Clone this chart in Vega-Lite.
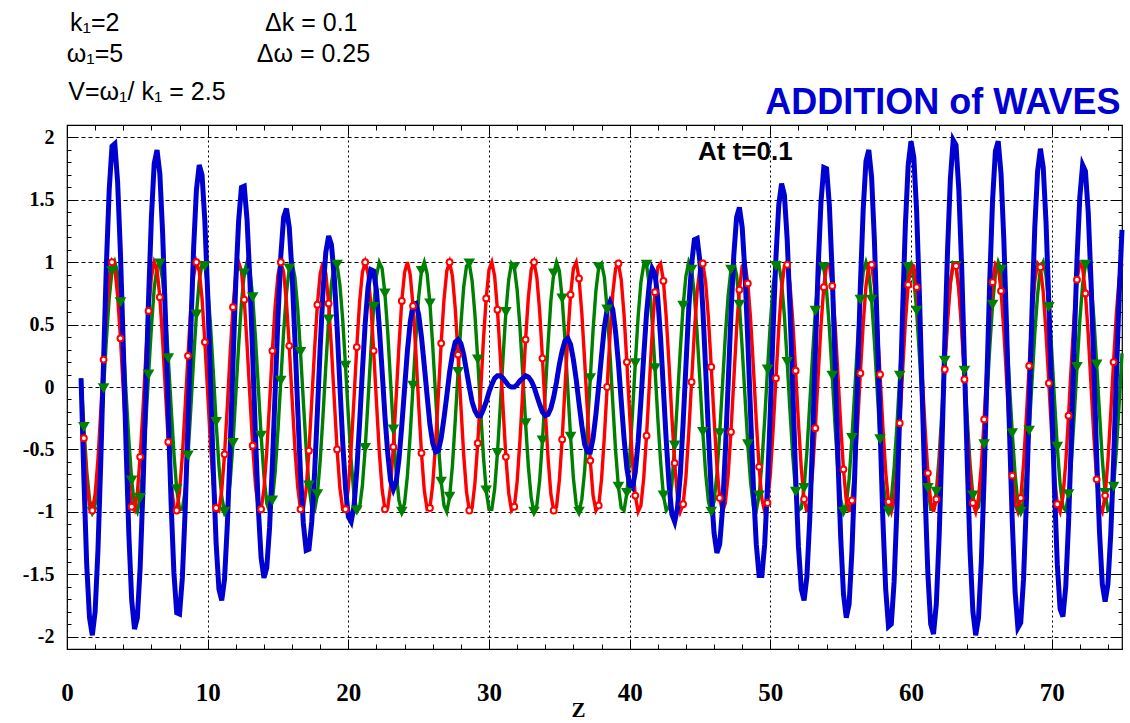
{
  "$schema": "https://vega.github.io/schema/vega-lite/v6.json",
  "width": 1055,
  "height": 524,
  "autosize": {"type": "none"},
  "padding": {"left": 67, "top": 125, "right": 8, "bottom": 74},
  "background": "white",
  "config": {
    "view": {"stroke": "#000", "strokeWidth": 1.2},
    "axis": {"domain": false, "labelFont": "Liberation Serif", "labelFontWeight": "bold", "labelColor": "#000", "tickColor": "#000", "gridColor": "#000", "gridOpacity": 1, "titleFont": "Liberation Serif", "titleFontWeight": "bold", "titleColor": "#000", "labelFlush": false, "labelOverlap": false}
  },
  "datasets": {
    "waves": [
      {"z":1,"wave1":0.07,"wave2":0,"sum":0.07},{"z":1.2,"wave1":-0.32,"wave2":-0.41,"sum":-0.73},{"z":1.4,"wave1":-0.67,"wave2":-0.75,"sum":-1.42},{"z":1.6,"wave1":-0.9,"wave2":-0.95,"sum":-1.85},{"z":1.8,"wave1":-1,"wave2":-0.99,"sum":-1.99},
      {"z":2,"wave1":-0.94,"wave2":-0.86,"sum":-1.8},{"z":2.2,"wave1":-0.73,"wave2":-0.58,"sum":-1.31},{"z":2.4,"wave1":-0.4,"wave2":-0.2,"sum":-0.6},{"z":2.6,"wave1":-0.01,"wave2":0.22,"sum":0.21},{"z":2.8,"wave1":0.38,"wave2":0.6,"sum":0.98},
      {"z":3,"wave1":0.71,"wave2":0.87,"sum":1.58},{"z":3.2,"wave1":0.93,"wave2":1,"sum":1.93},{"z":3.4,"wave1":1,"wave2":0.95,"sum":1.95},{"z":3.6,"wave1":0.91,"wave2":0.73,"sum":1.64},{"z":3.8,"wave1":0.68,"wave2":0.39,"sum":1.07},
      {"z":4,"wave1":0.35,"wave2":-0.02,"sum":0.33},{"z":4.2,"wave1":-0.05,"wave2":-0.43,"sum":-0.48},{"z":4.4,"wave1":-0.43,"wave2":-0.76,"sum":-1.19},{"z":4.6,"wave1":-0.75,"wave2":-0.96,"sum":-1.71},{"z":4.8,"wave1":-0.95,"wave2":-0.99,"sum":-1.94},
      {"z":5,"wave1":-1,"wave2":-0.85,"sum":-1.85},{"z":5.2,"wave1":-0.89,"wave2":-0.56,"sum":-1.45},{"z":5.4,"wave1":-0.64,"wave2":-0.18,"sum":-0.82},{"z":5.6,"wave1":-0.29,"wave2":0.24,"sum":-0.05},{"z":5.8,"wave1":0.1,"wave2":0.61,"sum":0.71},
      {"z":6,"wave1":0.48,"wave2":0.88,"sum":1.36},{"z":6.2,"wave1":0.79,"wave2":1,"sum":1.79},{"z":6.4,"wave1":0.96,"wave2":0.94,"sum":1.9},{"z":6.6,"wave1":0.99,"wave2":0.72,"sum":1.71},{"z":6.8,"wave1":0.86,"wave2":0.37,"sum":1.23},
      {"z":7,"wave1":0.59,"wave2":-0.04,"sum":0.55},{"z":7.2,"wave1":0.23,"wave2":-0.44,"sum":-0.21},{"z":7.4,"wave1":-0.16,"wave2":-0.77,"sum":-0.93},{"z":7.6,"wave1":-0.53,"wave2":-0.96,"sum":-1.49},{"z":7.8,"wave1":-0.82,"wave2":-0.99,"sum":-1.81},
      {"z":8,"wave1":-0.98,"wave2":-0.84,"sum":-1.82},{"z":8.2,"wave1":-0.98,"wave2":-0.55,"sum":-1.53},{"z":8.4,"wave1":-0.83,"wave2":-0.16,"sum":-0.99},{"z":8.6,"wave1":-0.55,"wave2":0.25,"sum":-0.3},{"z":8.8,"wave1":-0.18,"wave2":0.63,"sum":0.45},
      {"z":9,"wave1":0.22,"wave2":0.89,"sum":1.11},{"z":9.2,"wave1":0.58,"wave2":1,"sum":1.58},{"z":9.4,"wave1":0.85,"wave2":0.93,"sum":1.78},{"z":9.6,"wave1":0.99,"wave2":0.71,"sum":1.7},{"z":9.8,"wave1":0.97,"wave2":0.36,"sum":1.33},
      {"z":10,"wave1":0.8,"wave2":-0.05,"sum":0.75},{"z":10.2,"wave1":0.5,"wave2":-0.46,"sum":0.04},{"z":10.4,"wave1":0.12,"wave2":-0.78,"sum":-0.66},{"z":10.6,"wave1":-0.28,"wave2":-0.97,"sum":-1.25},{"z":10.8,"wave1":-0.63,"wave2":-0.99,"sum":-1.62},
      {"z":11,"wave1":-0.88,"wave2":-0.83,"sum":-1.71},{"z":11.2,"wave1":-1,"wave2":-0.54,"sum":-1.54},{"z":11.4,"wave1":-0.95,"wave2":-0.15,"sum":-1.1},{"z":11.6,"wave1":-0.76,"wave2":0.27,"sum":-0.49},{"z":11.8,"wave1":-0.45,"wave2":0.64,"sum":0.19},
      {"z":12,"wave1":-0.06,"wave2":0.9,"sum":0.84},{"z":12.2,"wave1":0.33,"wave2":1,"sum":1.33},{"z":12.4,"wave1":0.67,"wave2":0.93,"sum":1.6},{"z":12.6,"wave1":0.91,"wave2":0.7,"sum":1.61},{"z":12.8,"wave1":1,"wave2":0.34,"sum":1.34},
      {"z":13,"wave1":0.93,"wave2":-0.07,"sum":0.86},{"z":13.2,"wave1":0.72,"wave2":-0.47,"sum":0.25},{"z":13.4,"wave1":0.39,"wave2":-0.79,"sum":-0.4},{"z":13.6,"wave1":0,"wave2":-0.97,"sum":-0.97},{"z":13.8,"wave1":-0.39,"wave2":-0.98,"sum":-1.37},
      {"z":14,"wave1":-0.71,"wave2":-0.82,"sum":-1.53},{"z":14.2,"wave1":-0.93,"wave2":-0.52,"sum":-1.45},{"z":14.4,"wave1":-1,"wave2":-0.13,"sum":-1.13},{"z":14.6,"wave1":-0.91,"wave2":0.29,"sum":-0.62},{"z":14.8,"wave1":-0.68,"wave2":0.65,"sum":-0.03},
      {"z":15,"wave1":-0.34,"wave2":0.9,"sum":0.56},{"z":15.2,"wave1":0.05,"wave2":1,"sum":1.05},{"z":15.4,"wave1":0.44,"wave2":0.92,"sum":1.36},{"z":15.6,"wave1":0.75,"wave2":0.68,"sum":1.43},{"z":15.8,"wave1":0.95,"wave2":0.33,"sum":1.28},
      {"z":16,"wave1":1,"wave2":-0.09,"sum":0.91},{"z":16.2,"wave1":0.88,"wave2":-0.49,"sum":0.39},{"z":16.4,"wave1":0.63,"wave2":-0.8,"sum":-0.17},{"z":16.6,"wave1":0.28,"wave2":-0.98,"sum":-0.7},{"z":16.8,"wave1":-0.11,"wave2":-0.98,"sum":-1.09},
      {"z":17,"wave1":-0.49,"wave2":-0.82,"sum":-1.31},{"z":17.2,"wave1":-0.79,"wave2":-0.51,"sum":-1.3},{"z":17.4,"wave1":-0.97,"wave2":-0.11,"sum":-1.08},{"z":17.6,"wave1":-0.99,"wave2":0.3,"sum":-0.69},{"z":17.8,"wave1":-0.86,"wave2":0.66,"sum":-0.2},
      {"z":18,"wave1":-0.59,"wave2":0.91,"sum":0.32},{"z":18.2,"wave1":-0.23,"wave2":1,"sum":0.77},{"z":18.4,"wave1":0.17,"wave2":0.91,"sum":1.08},{"z":18.6,"wave1":0.54,"wave2":0.67,"sum":1.21},{"z":18.8,"wave1":0.83,"wave2":0.31,"sum":1.14},
      {"z":19,"wave1":0.98,"wave2":-0.1,"sum":0.88},{"z":19.2,"wave1":0.98,"wave2":-0.5,"sum":0.48},{"z":19.4,"wave1":0.82,"wave2":-0.81,"sum":0.01},{"z":19.6,"wave1":0.54,"wave2":-0.98,"sum":-0.44},{"z":19.8,"wave1":0.17,"wave2":-0.98,"sum":-0.81},
      {"z":20,"wave1":-0.23,"wave2":-0.81,"sum":-1.04},{"z":20.2,"wave1":-0.59,"wave2":-0.49,"sum":-1.08},{"z":20.4,"wave1":-0.86,"wave2":-0.1,"sum":-0.96},{"z":20.6,"wave1":-0.99,"wave2":0.32,"sum":-0.67},{"z":20.8,"wave1":-0.97,"wave2":0.68,"sum":-0.29},
      {"z":21,"wave1":-0.79,"wave2":0.92,"sum":0.13},{"z":21.2,"wave1":-0.49,"wave2":1,"sum":0.51},{"z":21.4,"wave1":-0.11,"wave2":0.91,"sum":0.8},{"z":21.6,"wave1":0.28,"wave2":0.66,"sum":0.94},{"z":21.8,"wave1":0.64,"wave2":0.29,"sum":0.93},
      {"z":22,"wave1":0.89,"wave2":-0.12,"sum":0.77},{"z":22.2,"wave1":1,"wave2":-0.52,"sum":0.48},{"z":22.4,"wave1":0.95,"wave2":-0.82,"sum":0.13},{"z":22.6,"wave1":0.75,"wave2":-0.98,"sum":-0.23},{"z":22.8,"wave1":0.44,"wave2":-0.97,"sum":-0.53},
      {"z":23,"wave1":0.05,"wave2":-0.8,"sum":-0.75},{"z":23.2,"wave1":-0.34,"wave2":-0.48,"sum":-0.82},{"z":23.4,"wave1":-0.68,"wave2":-0.08,"sum":-0.76},{"z":23.6,"wave1":-0.91,"wave2":0.33,"sum":-0.58},{"z":23.8,"wave1":-1,"wave2":0.69,"sum":-0.31},
      {"z":24,"wave1":-0.93,"wave2":0.92,"sum":-0.01},{"z":24.2,"wave1":-0.71,"wave2":1,"sum":0.29},{"z":24.4,"wave1":-0.38,"wave2":0.9,"sum":0.52},{"z":24.6,"wave1":0.01,"wave2":0.65,"sum":0.66},{"z":24.8,"wave1":0.39,"wave2":0.28,"sum":0.67},
      {"z":25,"wave1":0.72,"wave2":-0.14,"sum":0.58},{"z":25.2,"wave1":0.93,"wave2":-0.53,"sum":0.4},{"z":25.4,"wave1":1,"wave2":-0.83,"sum":0.17},{"z":25.6,"wave1":0.91,"wave2":-0.98,"sum":-0.07},{"z":25.8,"wave1":0.67,"wave2":-0.97,"sum":-0.3},
      {"z":26,"wave1":0.33,"wave2":-0.78,"sum":-0.45},{"z":26.2,"wave1":-0.06,"wave2":-0.46,"sum":-0.52},{"z":26.4,"wave1":-0.45,"wave2":-0.06,"sum":-0.51},{"z":26.6,"wave1":-0.76,"wave2":0.35,"sum":-0.41},{"z":26.8,"wave1":-0.95,"wave2":0.7,"sum":-0.25},
      {"z":27,"wave1":-1,"wave2":0.93,"sum":-0.07},{"z":27.2,"wave1":-0.88,"wave2":1,"sum":0.12},{"z":27.4,"wave1":-0.63,"wave2":0.89,"sum":0.26},{"z":27.6,"wave1":-0.27,"wave2":0.63,"sum":0.36},{"z":27.8,"wave1":0.12,"wave2":0.26,"sum":0.38},
      {"z":28,"wave1":0.5,"wave2":-0.15,"sum":0.35},{"z":28.2,"wave1":0.8,"wave2":-0.54,"sum":0.26},{"z":28.4,"wave1":0.97,"wave2":-0.84,"sum":0.13},{"z":28.6,"wave1":0.99,"wave2":-0.99,"sum":0},{"z":28.8,"wave1":0.85,"wave2":-0.97,"sum":-0.12},
      {"z":29,"wave1":0.58,"wave2":-0.77,"sum":-0.19},{"z":29.2,"wave1":0.22,"wave2":-0.45,"sum":-0.23},{"z":29.4,"wave1":-0.18,"wave2":-0.05,"sum":-0.23},{"z":29.6,"wave1":-0.55,"wave2":0.37,"sum":-0.18},{"z":29.8,"wave1":-0.83,"wave2":0.71,"sum":-0.12},
      {"z":30,"wave1":-0.98,"wave2":0.94,"sum":-0.04},{"z":30.2,"wave1":-0.98,"wave2":1,"sum":0.02},{"z":30.4,"wave1":-0.82,"wave2":0.89,"sum":0.07},{"z":30.6,"wave1":-0.53,"wave2":0.62,"sum":0.09},{"z":30.8,"wave1":-0.16,"wave2":0.25,"sum":0.09},
      {"z":31,"wave1":0.24,"wave2":-0.17,"sum":0.07},{"z":31.2,"wave1":0.6,"wave2":-0.56,"sum":0.04},{"z":31.4,"wave1":0.86,"wave2":-0.85,"sum":0.01},{"z":31.6,"wave1":0.99,"wave2":-0.99,"sum":0},{"z":31.8,"wave1":0.96,"wave2":-0.96,"sum":0},
      {"z":32,"wave1":0.78,"wave2":-0.76,"sum":0.02},{"z":32.2,"wave1":0.48,"wave2":-0.43,"sum":0.05},{"z":32.4,"wave1":0.1,"wave2":-0.03,"sum":0.07},{"z":32.6,"wave1":-0.29,"wave2":0.38,"sum":0.09},{"z":32.8,"wave1":-0.64,"wave2":0.72,"sum":0.08},
      {"z":33,"wave1":-0.89,"wave2":0.94,"sum":0.05},{"z":33.2,"wave1":-1,"wave2":1,"sum":0},{"z":33.4,"wave1":-0.95,"wave2":0.88,"sum":-0.07},{"z":33.6,"wave1":-0.75,"wave2":0.61,"sum":-0.14},{"z":33.8,"wave1":-0.43,"wave2":0.23,"sum":-0.2},
      {"z":34,"wave1":-0.04,"wave2":-0.19,"sum":-0.23},{"z":34.2,"wave1":0.35,"wave2":-0.57,"sum":-0.22},{"z":34.4,"wave1":0.69,"wave2":-0.86,"sum":-0.17},{"z":34.6,"wave1":0.91,"wave2":-0.99,"sum":-0.08},{"z":34.8,"wave1":1,"wave2":-0.96,"sum":0.04},
      {"z":35,"wave1":0.93,"wave2":-0.75,"sum":0.18},{"z":35.2,"wave1":0.71,"wave2":-0.42,"sum":0.29},{"z":35.4,"wave1":0.38,"wave2":-0.01,"sum":0.37},{"z":35.6,"wave1":-0.01,"wave2":0.4,"sum":0.39},{"z":35.8,"wave1":-0.4,"wave2":0.74,"sum":0.34},
      {"z":36,"wave1":-0.73,"wave2":0.95,"sum":0.22},{"z":36.2,"wave1":-0.94,"wave2":1,"sum":0.06},{"z":36.4,"wave1":-1,"wave2":0.87,"sum":-0.13},{"z":36.6,"wave1":-0.9,"wave2":0.59,"sum":-0.31},{"z":36.8,"wave1":-0.67,"wave2":0.21,"sum":-0.46},
      {"z":37,"wave1":-0.32,"wave2":-0.2,"sum":-0.52},{"z":37.2,"wave1":0.07,"wave2":-0.59,"sum":-0.52},{"z":37.4,"wave1":0.46,"wave2":-0.87,"sum":-0.41},{"z":37.6,"wave1":0.77,"wave2":-0.99,"sum":-0.22},{"z":37.8,"wave1":0.96,"wave2":-0.95,"sum":0.01},
      {"z":38,"wave1":0.99,"wave2":-0.74,"sum":0.25},{"z":38.2,"wave1":0.88,"wave2":-0.4,"sum":0.48},{"z":38.4,"wave1":0.62,"wave2":0,"sum":0.62},{"z":38.6,"wave1":0.27,"wave2":0.41,"sum":0.68},{"z":38.8,"wave1":-0.13,"wave2":0.75,"sum":0.62},
      {"z":39,"wave1":-0.51,"wave2":0.95,"sum":0.44},{"z":39.2,"wave1":-0.8,"wave2":0.99,"sum":0.19},{"z":39.4,"wave1":-0.97,"wave2":0.86,"sum":-0.11},{"z":39.6,"wave1":-0.99,"wave2":0.58,"sum":-0.41},{"z":39.8,"wave1":-0.85,"wave2":0.2,"sum":-0.65},
      {"z":40,"wave1":-0.57,"wave2":-0.22,"sum":-0.79},{"z":40.2,"wave1":-0.21,"wave2":-0.6,"sum":-0.81},{"z":40.4,"wave1":0.19,"wave2":-0.87,"sum":-0.68},{"z":40.6,"wave1":0.56,"wave2":-1,"sum":-0.44},{"z":40.8,"wave1":0.84,"wave2":-0.95,"sum":-0.11},
      {"z":41,"wave1":0.98,"wave2":-0.73,"sum":0.25},{"z":41.2,"wave1":0.98,"wave2":-0.39,"sum":0.59},{"z":41.4,"wave1":0.81,"wave2":0.02,"sum":0.83},{"z":41.6,"wave1":0.52,"wave2":0.43,"sum":0.95},{"z":41.8,"wave1":0.15,"wave2":0.76,"sum":0.91},
      {"z":42,"wave1":-0.25,"wave2":0.96,"sum":0.71},{"z":42.2,"wave1":-0.6,"wave2":0.99,"sum":0.39},{"z":42.4,"wave1":-0.87,"wave2":0.85,"sum":-0.02},{"z":42.6,"wave1":-0.99,"wave2":0.56,"sum":-0.43},{"z":42.8,"wave1":-0.96,"wave2":0.18,"sum":-0.78},
      {"z":43,"wave1":-0.78,"wave2":-0.24,"sum":-1.02},{"z":43.2,"wave1":-0.47,"wave2":-0.61,"sum":-1.08},{"z":43.4,"wave1":-0.09,"wave2":-0.88,"sum":-0.97},{"z":43.6,"wave1":0.3,"wave2":-1,"sum":-0.7},{"z":43.8,"wave1":0.65,"wave2":-0.94,"sum":-0.29},
      {"z":44,"wave1":0.89,"wave2":-0.72,"sum":0.17},{"z":44.2,"wave1":1,"wave2":-0.37,"sum":0.63},{"z":44.4,"wave1":0.94,"wave2":0.04,"sum":0.98},{"z":44.6,"wave1":0.74,"wave2":0.44,"sum":1.18},{"z":44.8,"wave1":0.42,"wave2":0.77,"sum":1.19},
      {"z":45,"wave1":0.04,"wave2":0.96,"sum":1},{"z":45.2,"wave1":-0.36,"wave2":0.99,"sum":0.63},{"z":45.4,"wave1":-0.69,"wave2":0.84,"sum":0.15},{"z":45.6,"wave1":-0.92,"wave2":0.55,"sum":-0.37},{"z":45.8,"wave1":-1,"wave2":0.16,"sum":-0.84},
      {"z":46,"wave1":-0.92,"wave2":-0.25,"sum":-1.17},{"z":46.2,"wave1":-0.7,"wave2":-0.63,"sum":-1.33},{"z":46.4,"wave1":-0.37,"wave2":-0.89,"sum":-1.26},{"z":46.6,"wave1":0.02,"wave2":-1,"sum":-0.98},{"z":46.8,"wave1":0.41,"wave2":-0.93,"sum":-0.52},
      {"z":47,"wave1":0.73,"wave2":-0.71,"sum":0.02},{"z":47.2,"wave1":0.94,"wave2":-0.36,"sum":0.58},{"z":47.4,"wave1":1,"wave2":0.05,"sum":1.05},{"z":47.6,"wave1":0.9,"wave2":0.46,"sum":1.36},{"z":47.8,"wave1":0.66,"wave2":0.78,"sum":1.44},
      {"z":48,"wave1":0.31,"wave2":0.97,"sum":1.28},{"z":48.2,"wave1":-0.08,"wave2":0.99,"sum":0.91},{"z":48.4,"wave1":-0.46,"wave2":0.83,"sum":0.37},{"z":48.6,"wave1":-0.77,"wave2":0.54,"sum":-0.23},{"z":48.8,"wave1":-0.96,"wave2":0.15,"sum":-0.81},
      {"z":49,"wave1":-0.99,"wave2":-0.27,"sum":-1.26},{"z":49.2,"wave1":-0.87,"wave2":-0.64,"sum":-1.51},{"z":49.4,"wave1":-0.61,"wave2":-0.9,"sum":-1.51},{"z":49.6,"wave1":-0.26,"wave2":-1,"sum":-1.26},{"z":49.8,"wave1":0.14,"wave2":-0.93,"sum":-0.79},
      {"z":50,"wave1":0.51,"wave2":-0.7,"sum":-0.19},{"z":50.2,"wave1":0.81,"wave2":-0.34,"sum":0.47},{"z":50.4,"wave1":0.97,"wave2":0.07,"sum":1.04},{"z":50.6,"wave1":0.99,"wave2":0.47,"sum":1.46},{"z":50.8,"wave1":0.84,"wave2":0.79,"sum":1.63},
      {"z":51,"wave1":0.57,"wave2":0.97,"sum":1.54},{"z":51.2,"wave1":0.2,"wave2":0.98,"sum":1.18},{"z":51.4,"wave1":-0.2,"wave2":0.82,"sum":0.62},{"z":51.6,"wave1":-0.56,"wave2":0.52,"sum":-0.04},{"z":51.8,"wave1":-0.84,"wave2":0.13,"sum":-0.71},
      {"z":52,"wave1":-0.99,"wave2":-0.29,"sum":-1.28},{"z":52.2,"wave1":-0.97,"wave2":-0.65,"sum":-1.62},{"z":52.4,"wave1":-0.81,"wave2":-0.9,"sum":-1.71},{"z":52.6,"wave1":-0.52,"wave2":-1,"sum":-1.52},{"z":52.8,"wave1":-0.14,"wave2":-0.92,"sum":-1.06},
      {"z":53,"wave1":0.25,"wave2":-0.68,"sum":-0.43},{"z":53.2,"wave1":0.61,"wave2":-0.33,"sum":0.28},{"z":53.4,"wave1":0.87,"wave2":0.09,"sum":0.96},{"z":53.6,"wave1":0.99,"wave2":0.49,"sum":1.48},{"z":53.8,"wave1":0.96,"wave2":0.8,"sum":1.76},
      {"z":54,"wave1":0.77,"wave2":0.98,"sum":1.75},{"z":54.2,"wave1":0.47,"wave2":0.98,"sum":1.45},{"z":54.4,"wave1":0.09,"wave2":0.81,"sum":0.9},{"z":54.6,"wave1":-0.31,"wave2":0.51,"sum":0.2},{"z":54.8,"wave1":-0.66,"wave2":0.11,"sum":-0.55},
      {"z":55,"wave1":-0.9,"wave2":-0.3,"sum":-1.2},{"z":55.2,"wave1":-1,"wave2":-0.66,"sum":-1.66},{"z":55.4,"wave1":-0.94,"wave2":-0.91,"sum":-1.85},{"z":55.6,"wave1":-0.74,"wave2":-1,"sum":-1.74},{"z":55.8,"wave1":-0.41,"wave2":-0.91,"sum":-1.32},
      {"z":56,"wave1":-0.03,"wave2":-0.67,"sum":-0.7},{"z":56.2,"wave1":0.36,"wave2":-0.31,"sum":0.05},{"z":56.4,"wave1":0.7,"wave2":0.11,"sum":0.81},{"z":56.6,"wave1":0.92,"wave2":0.5,"sum":1.42},{"z":56.8,"wave1":1,"wave2":0.81,"sum":1.81},
      {"z":57,"wave1":0.92,"wave2":0.98,"sum":1.9},{"z":57.2,"wave1":0.7,"wave2":0.98,"sum":1.68},{"z":57.4,"wave1":0.36,"wave2":0.81,"sum":1.17},{"z":57.6,"wave1":-0.03,"wave2":0.49,"sum":0.46},{"z":57.8,"wave1":-0.42,"wave2":0.1,"sum":-0.32},
      {"z":58,"wave1":-0.74,"wave2":-0.32,"sum":-1.06},{"z":58.2,"wave1":-0.94,"wave2":-0.68,"sum":-1.62},{"z":58.4,"wave1":-1,"wave2":-0.92,"sum":-1.92},{"z":58.6,"wave1":-0.9,"wave2":-1,"sum":-1.9},{"z":58.8,"wave1":-0.65,"wave2":-0.91,"sum":-1.56},
      {"z":59,"wave1":-0.31,"wave2":-0.66,"sum":-0.97},{"z":59.2,"wave1":0.09,"wave2":-0.29,"sum":-0.2},{"z":59.4,"wave1":0.47,"wave2":0.12,"sum":0.59},{"z":59.6,"wave1":0.78,"wave2":0.52,"sum":1.3},{"z":59.8,"wave1":0.96,"wave2":0.82,"sum":1.78},
      {"z":60,"wave1":0.99,"wave2":0.98,"sum":1.97},{"z":60.2,"wave1":0.87,"wave2":0.97,"sum":1.84},{"z":60.4,"wave1":0.61,"wave2":0.8,"sum":1.41},{"z":60.6,"wave1":0.25,"wave2":0.48,"sum":0.73},{"z":60.8,"wave1":-0.15,"wave2":0.08,"sum":-0.07},
      {"z":61,"wave1":-0.52,"wave2":-0.33,"sum":-0.85},{"z":61.2,"wave1":-0.81,"wave2":-0.69,"sum":-1.5},{"z":61.4,"wave1":-0.98,"wave2":-0.92,"sum":-1.9},{"z":61.6,"wave1":-0.98,"wave2":-1,"sum":-1.98},{"z":61.8,"wave1":-0.84,"wave2":-0.9,"sum":-1.74},
      {"z":62,"wave1":-0.56,"wave2":-0.64,"sum":-1.2},{"z":62.2,"wave1":-0.19,"wave2":-0.28,"sum":-0.47},{"z":62.4,"wave1":0.21,"wave2":0.14,"sum":0.35},{"z":62.6,"wave1":0.57,"wave2":0.53,"sum":1.1},{"z":62.8,"wave1":0.84,"wave2":0.83,"sum":1.67},
      {"z":63,"wave1":0.99,"wave2":0.99,"sum":1.98},{"z":63.2,"wave1":0.97,"wave2":0.97,"sum":1.94},{"z":63.4,"wave1":0.8,"wave2":0.78,"sum":1.58},{"z":63.6,"wave1":0.51,"wave2":0.46,"sum":0.97},{"z":63.8,"wave1":0.13,"wave2":0.06,"sum":0.19},
      {"z":64,"wave1":-0.26,"wave2":-0.35,"sum":-0.61},{"z":64.2,"wave1":-0.62,"wave2":-0.7,"sum":-1.32},{"z":64.4,"wave1":-0.87,"wave2":-0.93,"sum":-1.8},{"z":64.6,"wave1":-0.99,"wave2":-1,"sum":-1.99},{"z":64.8,"wave1":-0.96,"wave2":-0.89,"sum":-1.85},
      {"z":65,"wave1":-0.77,"wave2":-0.63,"sum":-1.4},{"z":65.2,"wave1":-0.46,"wave2":-0.26,"sum":-0.72},{"z":65.4,"wave1":-0.08,"wave2":0.16,"sum":0.08},{"z":65.6,"wave1":0.32,"wave2":0.54,"sum":0.86},{"z":65.8,"wave1":0.66,"wave2":0.84,"sum":1.5},
      {"z":66,"wave1":0.9,"wave2":0.99,"sum":1.89},{"z":66.2,"wave1":1,"wave2":0.97,"sum":1.97},{"z":66.4,"wave1":0.94,"wave2":0.77,"sum":1.71},{"z":66.6,"wave1":0.73,"wave2":0.45,"sum":1.18},{"z":66.8,"wave1":0.41,"wave2":0.05,"sum":0.46},
      {"z":67,"wave1":0.02,"wave2":-0.37,"sum":-0.35},{"z":67.2,"wave1":-0.37,"wave2":-0.71,"sum":-1.08},{"z":67.4,"wave1":-0.7,"wave2":-0.94,"sum":-1.64},{"z":67.6,"wave1":-0.93,"wave2":-1,"sum":-1.93},{"z":67.8,"wave1":-1,"wave2":-0.89,"sum":-1.89},
      {"z":68,"wave1":-0.92,"wave2":-0.62,"sum":-1.54},{"z":68.2,"wave1":-0.69,"wave2":-0.24,"sum":-0.93},{"z":68.4,"wave1":-0.35,"wave2":0.17,"sum":-0.18},{"z":68.6,"wave1":0.04,"wave2":0.56,"sum":0.6},{"z":68.8,"wave1":0.43,"wave2":0.85,"sum":1.28},
      {"z":69,"wave1":0.74,"wave2":0.99,"sum":1.73},{"z":69.2,"wave1":0.95,"wave2":0.96,"sum":1.91},{"z":69.4,"wave1":1,"wave2":0.76,"sum":1.76},{"z":69.6,"wave1":0.89,"wave2":0.43,"sum":1.32},{"z":69.8,"wave1":0.64,"wave2":0.03,"sum":0.67},
      {"z":70,"wave1":0.3,"wave2":-0.38,"sum":-0.08},{"z":70.2,"wave1":-0.1,"wave2":-0.72,"sum":-0.82},{"z":70.4,"wave1":-0.48,"wave2":-0.94,"sum":-1.42},{"z":70.6,"wave1":-0.78,"wave2":-1,"sum":-1.78},{"z":70.8,"wave1":-0.96,"wave2":-0.88,"sum":-1.84},
      {"z":71,"wave1":-0.99,"wave2":-0.61,"sum":-1.6},{"z":71.2,"wave1":-0.86,"wave2":-0.23,"sum":-1.09},{"z":71.4,"wave1":-0.6,"wave2":0.19,"sum":-0.41},{"z":71.6,"wave1":-0.24,"wave2":0.57,"sum":0.33},{"z":71.8,"wave1":0.16,"wave2":0.86,"sum":1.02},
      {"z":72,"wave1":0.53,"wave2":0.99,"sum":1.52},{"z":72.2,"wave1":0.82,"wave2":0.96,"sum":1.78},{"z":72.4,"wave1":0.98,"wave2":0.75,"sum":1.73},{"z":72.6,"wave1":0.98,"wave2":0.42,"sum":1.4},{"z":72.8,"wave1":0.83,"wave2":0.01,"sum":0.84},
      {"z":73,"wave1":0.55,"wave2":-0.4,"sum":0.15},{"z":73.2,"wave1":0.18,"wave2":-0.74,"sum":-0.56},{"z":73.4,"wave1":-0.21,"wave2":-0.95,"sum":-1.16},{"z":73.6,"wave1":-0.58,"wave2":-1,"sum":-1.58},{"z":73.8,"wave1":-0.85,"wave2":-0.87,"sum":-1.72},
      {"z":74,"wave1":-0.99,"wave2":-0.59,"sum":-1.58},{"z":74.2,"wave1":-0.97,"wave2":-0.21,"sum":-1.18},{"z":74.4,"wave1":-0.8,"wave2":0.2,"sum":-0.6},{"z":74.6,"wave1":-0.5,"wave2":0.59,"sum":0.09},{"z":74.8,"wave1":-0.13,"wave2":0.87,"sum":0.74},
      {"z":75,"wave1":0.27,"wave2":0.99,"sum":1.26}
    ]
  },
  "data": {"name": "waves"},
  "resolve": {"axis": {"x": "independent", "y": "independent"}},
  "layer": [
    {
      "mark": {"type": "line", "color": "#008000", "strokeWidth": 3.4},
      "encoding": {
        "x": {"field": "z", "type": "quantitative", "scale": {"domain": [0, 75], "nice": false, "zero": false},
              "axis": {"orient": "bottom", "values": [0, 10, 20, 30, 40, 50, 60, 70], "ticks": false, "labelFontSize": 25, "labelPadding": 31, "labelExpr": "'' + datum.value", "grid": true, "gridDash": [2, 3], "gridWidth": 1, "title": "Z", "titleFontSize": 21, "titleX": 511, "titleY": 67, "titleBaseline": "alphabetic"}},
        "y": {"field": "wave1", "type": "quantitative", "scale": {"domain": [-2.1, 2.1], "nice": false, "zero": false},
              "axis": {"orient": "left", "values": [-2, -1.5, -1, -0.5, 0, 0.5, 1, 1.5, 2], "ticks": false, "labelFontSize": 20, "labelPadding": 13, "labelExpr": "'' + datum.value", "grid": true, "gridDash": [4, 3], "gridWidth": 1.1, "title": null}}
      }
    },
    {
      "mark": {"type": "line", "color": "#ff0000", "strokeWidth": 3.4},
      "encoding": {
        "x": {"field": "z", "type": "quantitative", "scale": {"domain": [0, 75], "nice": false, "zero": false},
              "axis": {"orient": "bottom", "values": [0, 2, 4, 6, 8, 10, 12, 14, 16, 18, 20, 22, 24, 26, 28, 30, 32, 34, 36, 38, 40, 42, 44, 46, 48, 50, 52, 54, 56, 58, 60, 62, 64, 66, 68, 70, 72, 74], "tickSize": -5, "labels": false, "grid": false, "title": null}},
        "y": {"field": "wave2", "type": "quantitative", "scale": {"domain": [-2.1, 2.1], "nice": false, "zero": false},
              "axis": {"orient": "left", "values": [-2.1, -2, -1.9, -1.8, -1.7, -1.6, -1.5, -1.4, -1.3, -1.2, -1.1, -1, -0.9, -0.8, -0.7, -0.6, -0.5, -0.4, -0.3, -0.2, -0.1, 0, 0.1, 0.2, 0.3, 0.4, 0.5, 0.6, 0.7, 0.8, 0.9, 1, 1.1, 1.2, 1.3, 1.4, 1.5, 1.6, 1.7, 1.8, 1.9, 2, 2.1], "tickSize": -4, "labels": false, "grid": false, "title": null}}
      }
    },
    {
      "mark": {"type": "line", "color": "#0000d0", "strokeWidth": 5},
      "encoding": {
        "x": {"field": "z", "type": "quantitative", "scale": {"domain": [0, 75], "nice": false, "zero": false},
              "axis": {"orient": "top", "values": [0, 2, 4, 6, 8, 10, 12, 14, 16, 18, 20, 22, 24, 26, 28, 30, 32, 34, 36, 38, 40, 42, 44, 46, 48, 50, 52, 54, 56, 58, 60, 62, 64, 66, 68, 70, 72, 74], "tickSize": -5, "labels": false, "grid": false, "title": null}},
        "y": {"field": "sum", "type": "quantitative", "scale": {"domain": [-2.1, 2.1], "nice": false, "zero": false},
              "axis": {"orient": "right", "values": [-2.1, -2, -1.9, -1.8, -1.7, -1.6, -1.5, -1.4, -1.3, -1.2, -1.1, -1, -0.9, -0.8, -0.7, -0.6, -0.5, -0.4, -0.3, -0.2, -0.1, 0, 0.1, 0.2, 0.3, 0.4, 0.5, 0.6, 0.7, 0.8, 0.9, 1, 1.1, 1.2, 1.3, 1.4, 1.5, 1.6, 1.7, 1.8, 1.9, 2, 2.1], "tickSize": -4, "labels": false, "grid": false, "title": null}}
      }
    },
    {
      "transform": [{"filter": {"field": "z", "oneOf": [1.2, 1.8, 2.6, 3.2, 3.8, 4.6, 5.2, 5.8, 6.6, 7.2, 7.8, 8.6, 9.2, 9.8, 10.6, 11.2, 11.8, 12.6, 13.2, 13.8, 14.6, 15.2, 15.8, 16.6, 17.2, 17.8, 18.6, 19.2, 19.8, 20.6, 21.2, 21.8, 22.6, 23.2, 23.8, 24.6, 25.2, 25.8, 26.6, 27.2, 27.8, 28.6, 29.2, 29.8, 30.6, 31.2, 31.8, 32.6, 33.2, 33.8, 34.6, 35.2, 35.8, 36.4, 37.2, 37.8, 38.4, 39.2, 39.8, 40.4, 41.2, 41.8, 42.4, 43.2, 43.8, 44.4, 45.2, 45.8, 46.4, 47.2, 47.8, 48.4, 49.2, 49.8, 50.4, 51.2, 51.8, 52.4, 53.2, 53.8, 54.4, 55.2, 55.8, 56.4, 57.2, 57.8, 58.4, 59.2, 59.8, 60.4, 61.2, 61.8, 62.4, 63.2, 63.8, 64.4, 65.2, 65.8, 66.4, 67.2, 67.8, 68.4, 69.2, 69.8, 70.4, 71.2, 71.8, 72.4, 73.2, 73.8, 74.4]}}],
      "mark": {"type": "point", "shape": "triangle-down", "filled": true, "color": "#008000", "size": 135, "opacity": 1},
      "encoding": {
        "x": {"field": "z", "type": "quantitative", "scale": {"domain": [0, 75], "nice": false, "zero": false},
              "axis": {"orient": "top", "values": [0, 10, 20, 30, 40, 50, 60, 70], "tickSize": -10, "labels": false, "grid": false, "title": null}},
        "y": {"field": "wave1", "type": "quantitative", "scale": {"domain": [-2.1, 2.1], "nice": false, "zero": false},
              "axis": {"orient": "right", "values": [-2, -1.5, -1, -0.5, 0, 0.5, 1, 1.5, 2], "tickSize": -10, "labels": false, "grid": false, "title": null}}
      }
    },
    {
      "transform": [{"filter": {"field": "z", "oneOf": [1.2, 1.8, 2.6, 3.2, 3.8, 4.6, 5.2, 5.8, 6.6, 7.2, 7.8, 8.6, 9.2, 9.8, 10.6, 11.2, 11.8, 12.6, 13.2, 13.8, 14.6, 15.2, 15.8, 16.6, 17.2, 17.8, 18.6, 19.2, 19.8, 20.6, 21.2, 21.8, 22.6, 23.2, 23.8, 24.6, 25.2, 25.8, 26.6, 27.2, 27.8, 28.6, 29.2, 29.8, 30.6, 31.2, 31.8, 32.6, 33.2, 33.8, 34.6, 35.2, 35.8, 36.4, 37.2, 37.8, 38.4, 39.2, 39.8, 40.4, 41.2, 41.8, 42.4, 43.2, 43.8, 44.4, 45.2, 45.8, 46.4, 47.2, 47.8, 48.4, 49.2, 49.8, 50.4, 51.2, 51.8, 52.4, 53.2, 53.8, 54.4, 55.2, 55.8, 56.4, 57.2, 57.8, 58.4, 59.2, 59.8, 60.4, 61.2, 61.8, 62.4, 63.2, 63.8, 64.4, 65.2, 65.8, 66.4, 67.2, 67.8, 68.4, 69.2, 69.8, 70.4, 71.2, 71.8, 72.4, 73.2, 73.8, 74.4]}}],
      "mark": {"type": "point", "shape": "circle", "filled": true, "fill": "#ffffff", "stroke": "#ff0000", "strokeWidth": 2, "size": 34, "opacity": 1},
      "encoding": {
        "x": {"field": "z", "type": "quantitative", "scale": {"domain": [0, 75], "nice": false, "zero": false},
              "axis": {"orient": "bottom", "values": [0, 10, 20, 30, 40, 50, 60, 70], "tickSize": -10, "labels": false, "grid": false, "title": null}},
        "y": {"field": "wave2", "type": "quantitative", "scale": {"domain": [-2.1, 2.1], "nice": false, "zero": false},
              "axis": {"orient": "left", "values": [-2, -1.5, -1, -0.5, 0, 0.5, 1, 1.5, 2], "tickSize": -10, "labels": false, "grid": false, "title": null}}
      }
    },
    {
      "data": {"values": [{}]},
      "mark": {"type": "text", "text": "ADDITION of WAVES", "font": "Liberation Sans", "fontWeight": "bold", "fontSize": 36, "align": "right", "baseline": "alphabetic", "color": "#0000d0"},
      "encoding": {"x": {"datum": 74.9, "type": "quantitative", "axis": null}, "y": {"datum": 2.19, "type": "quantitative", "axis": null}}
    },
    {
      "data": {"values": [{}]},
      "mark": {"type": "text", "text": "At t=0.1", "font": "Liberation Sans", "fontWeight": "bold", "fontSize": 26, "align": "left", "baseline": "alphabetic", "color": "#000"},
      "encoding": {"x": {"datum": 44.86, "type": "quantitative", "axis": null}, "y": {"datum": 1.82, "type": "quantitative", "axis": null}}
    },
    {
      "data": {"values": [{}]},
      "mark": {"type": "text", "text": "k₁=2", "font": "Liberation Sans", "fontSize": 25, "align": "left", "baseline": "alphabetic", "color": "#000"},
      "encoding": {"x": {"datum": 0.21, "type": "quantitative", "axis": null}, "y": {"datum": 2.856, "type": "quantitative", "axis": null}}
    },
    {
      "data": {"values": [{}]},
      "mark": {"type": "text", "text": "Δk = 0.1", "font": "Liberation Sans", "fontSize": 25, "align": "left", "baseline": "alphabetic", "color": "#000"},
      "encoding": {"x": {"datum": 14.08, "type": "quantitative", "axis": null}, "y": {"datum": 2.856, "type": "quantitative", "axis": null}}
    },
    {
      "data": {"values": [{}]},
      "mark": {"type": "text", "text": "ω₁=5", "font": "Liberation Sans", "fontSize": 25, "align": "left", "baseline": "alphabetic", "color": "#000"},
      "encoding": {"x": {"datum": -0.02, "type": "quantitative", "axis": null}, "y": {"datum": 2.607, "type": "quantitative", "axis": null}}
    },
    {
      "data": {"values": [{}]},
      "mark": {"type": "text", "text": "Δω = 0.25", "font": "Liberation Sans", "fontSize": 25, "align": "left", "baseline": "alphabetic", "color": "#000"},
      "encoding": {"x": {"datum": 13.49, "type": "quantitative", "axis": null}, "y": {"datum": 2.607, "type": "quantitative", "axis": null}}
    },
    {
      "data": {"values": [{}]},
      "mark": {"type": "text", "text": "V=ω₁/ k₁ = 2.5", "font": "Liberation Sans", "fontSize": 25, "align": "left", "baseline": "alphabetic", "color": "#000"},
      "encoding": {"x": {"datum": 0.09, "type": "quantitative", "axis": null}, "y": {"datum": 2.3, "type": "quantitative", "axis": null}}
    }
  ]
}
